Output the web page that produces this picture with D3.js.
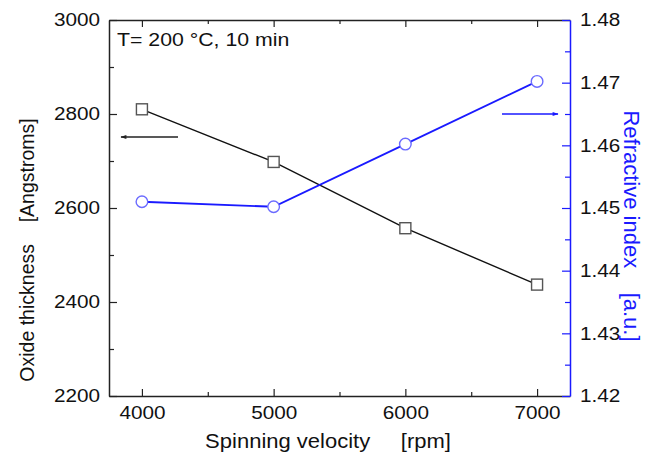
<!DOCTYPE html>
<html><head><meta charset="utf-8">
<script src="https://cdn.jsdelivr.net/npm/d3@7"></script>
<style>body{margin:0;background:#fff}svg{display:block;font-family:"Liberation Sans",Arial,sans-serif}</style>
</head><body><svg id="c" width="654" height="454"></svg>
<script>
const velocity = [4000, 5000, 6000, 7000];
const thickness = [2810, 2698, 2557, 2437];
const refIndex = [1.451, 1.4502, 1.4602, 1.4702];
const xTicks = [4000, 5000, 6000, 7000];
const xMinor = [4500, 5500, 6500];
const yLeftTicks = [2200, 2400, 2600, 2800, 3000];
const yLeftMinor = [2300, 2500, 2700, 2900];
const yRightTicks = [1.42, 1.43, 1.44, 1.45, 1.46, 1.47, 1.48];
const yRightMinor = [1.425, 1.435, 1.445, 1.455, 1.465, 1.475];

const svg = d3.select("#c");
const L = 109, R = 570, T = 20, B = 396;
const blue = "#1a1aff";
const x = d3.scaleLinear().domain([3750, 7250]).range([L, R]);
const yL = d3.scaleLinear().domain([2200, 3000]).range([B, T]);
const yR = d3.scaleLinear().domain([1.42, 1.48]).range([B, T]);

function stretch(sel, k) {
  sel.each(function () {
    const w = this.getComputedTextLength();
    d3.select(this).attr("textLength", w * k).attr("lengthAdjust", "spacingAndGlyphs");
  });
}

svg.append("defs").html(`
<marker id="ab" viewBox="0 0 10 10" refX="9" refY="5" markerWidth="7" markerHeight="6" orient="auto" markerUnits="userSpaceOnUse"><path d="M0,1.5L10,5L0,8.5Z" fill="#222"/></marker>
<marker id="abl" viewBox="0 0 10 10" refX="9" refY="5" markerWidth="7" markerHeight="6" orient="auto" markerUnits="userSpaceOnUse"><path d="M0,1.5L10,5L0,8.5Z" fill="${blue}"/></marker>`);

function styleAxis(g, col) {
  g.selectAll("path.domain").attr("stroke", col).attr("stroke-width", 1.5);
  g.selectAll(".tick line").attr("stroke", col).attr("stroke-width", 1.2);
  g.selectAll(".tick text").attr("fill", "#111").attr("font-size", 18)
    .attr("font-family", '"Liberation Sans",Arial,sans-serif');
}
function minor(g, col) {
  g.select(".domain").remove();
  g.selectAll("line").attr("stroke", col).attr("stroke-width", 1.2);
}
// bottom axis
const gb = svg.append("g").attr("transform", `translate(0,${B})`)
  .call(d3.axisBottom(x).tickValues(xTicks).tickSizeInner(-7).tickSizeOuter(0).tickPadding(10).tickFormat(d3.format("d")));
styleAxis(gb, "#222");
svg.append("g").attr("transform", `translate(0,${B})`)
  .call(d3.axisBottom(x).tickValues(xMinor).tickSize(-4).tickFormat("")).call(g => minor(g, "#222"));
// top axis
const gt = svg.append("g").attr("transform", `translate(0,${T})`)
  .call(d3.axisTop(x).tickValues(xTicks).tickSizeInner(-7).tickSizeOuter(0).tickFormat(""));
styleAxis(gt, "#222");
svg.append("g").attr("transform", `translate(0,${T})`)
  .call(d3.axisTop(x).tickValues(xMinor).tickSize(-4).tickFormat("")).call(g => minor(g, "#222"));
// left axis
const gl = svg.append("g").attr("transform", `translate(${L},0)`)
  .call(d3.axisLeft(yL).tickValues(yLeftTicks).tickSizeInner(-8).tickSizeOuter(0).tickPadding(9).tickFormat(d3.format("d")));
styleAxis(gl, "#222");
svg.append("g").attr("transform", `translate(${L},0)`)
  .call(d3.axisLeft(yL).tickValues(yLeftMinor).tickSize(-5).tickFormat("")).call(g => minor(g, "#222"));
// right axis
const gr = svg.append("g").attr("transform", `translate(${R},0)`)
  .call(d3.axisRight(yR).tickValues(yRightTicks).tickSizeInner(-8).tickSizeOuter(0).tickPadding(10).tickFormat(d3.format(".2f")));
styleAxis(gr, blue);
svg.append("g").attr("transform", `translate(${R},0)`)
  .call(d3.axisRight(yR).tickValues(yRightMinor).tickSize(-5).tickFormat("")).call(g => minor(g, blue));
[gb, gl, gr].forEach(g => stretch(g.selectAll(".tick text"), 1.15));

// series lines
const thickData = velocity.map((v, i) => [v, thickness[i]]);
const refData = velocity.map((v, i) => [v, refIndex[i]]);
svg.append("path").datum(thickData)
  .attr("d", d3.line().x(d => x(d[0])).y(d => yL(d[1])))
  .attr("fill", "none").attr("stroke", "#111").attr("stroke-width", 1.4);
svg.append("path").datum(refData)
  .attr("d", d3.line().x(d => x(d[0])).y(d => yR(d[1])))
  .attr("fill", "none").attr("stroke", blue).attr("stroke-width", 1.8);
// markers
svg.selectAll("rect.sq").data(thickData).join("rect").attr("class", "sq")
  .attr("x", d => x(d[0]) - 5.5).attr("y", d => yL(d[1]) - 5.5)
  .attr("width", 11).attr("height", 11)
  .attr("fill", "#fff").attr("stroke", "#555").attr("stroke-width", 1.4);
svg.selectAll("circle.ci").data(refData).join("circle").attr("class", "ci")
  .attr("cx", d => x(d[0])).attr("cy", d => yR(d[1])).attr("r", 5.8)
  .attr("fill", "#fff").attr("stroke", "#6b6bff").attr("stroke-width", 1.4);

// arrows
svg.append("line").attr("x1", 178).attr("y1", 137).attr("x2", 121).attr("y2", 137)
  .attr("stroke", "#222").attr("stroke-width", 1.6).attr("marker-end", "url(#ab)");
svg.append("line").attr("x1", 502).attr("y1", 114).attr("x2", 558).attr("y2", 114)
  .attr("stroke", blue).attr("stroke-width", 1.6).attr("marker-end", "url(#abl)");

// annotation
const ann = svg.append("text").attr("x", 117).attr("y", 46).attr("font-size", 18.5).attr("fill", "#111")
  .text("T= 200 °C, 10 min");
stretch(ann, 1.15);
// axis titles
const xt = svg.append("text").attr("x", 328).attr("y", 448).attr("text-anchor", "middle")
  .attr("font-size", 20).attr("fill", "#111").attr("xml:space", "preserve")
  .text("Spinning velocity     [rpm]");
stretch(xt, 1.1);
svg.append("text").attr("transform", `translate(34,250) rotate(-90)`)
  .attr("text-anchor", "middle").attr("font-size", 19.5).attr("fill", "#111").attr("xml:space", "preserve")
  .text("Oxide thickness    [Angstroms]");
svg.append("text").attr("transform", `translate(624,226) rotate(90)`)
  .attr("text-anchor", "middle").attr("font-size", 22).attr("fill", blue).attr("xml:space", "preserve")
  .text("Refractive index    [a.u.]");
</script></body></html>
